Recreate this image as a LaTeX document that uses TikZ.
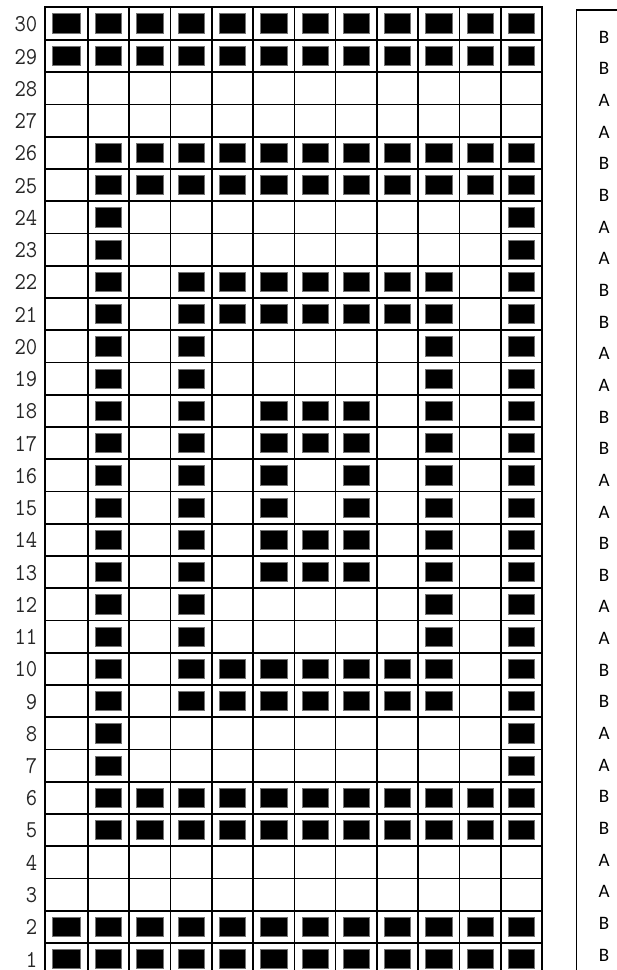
\documentclass[tikz,border=0pt]{standalone}
\usepackage{fontspec}
\newfontfamily\letfont{Carlito}
\begin{document}
\begin{tikzpicture}[x=1pt,y=-1pt,
  gridline/.style={line width=1.7pt, draw=black},
  fillsq/.style={fill=black, draw=black!55, line width=0.7pt},
  rownum/.style={anchor=east, font=\ttfamily\fontsize{22}{22}\selectfont, text=black!85, inner sep=0pt},
  letter/.style={font=\letfont\fontsize{19}{19}\selectfont, inner sep=0pt},
  keybox/.style={line width=1.3pt, draw=black}]
\useasboundingbox (0,0) rectangle (617,970);
\clip (0,0) rectangle (617,970);
% filled squares
\foreach \r/\cols in {
  30/{1,2,3,4,5,6,7,8,9,10,11,12},
  29/{1,2,3,4,5,6,7,8,9,10,11,12},
  26/{2,3,4,5,6,7,8,9,10,11,12},
  25/{2,3,4,5,6,7,8,9,10,11,12},
  24/{2,12}, 23/{2,12},
  22/{2,4,5,6,7,8,9,10,12}, 21/{2,4,5,6,7,8,9,10,12},
  20/{2,4,10,12}, 19/{2,4,10,12},
  18/{2,4,6,7,8,10,12}, 17/{2,4,6,7,8,10,12},
  16/{2,4,6,8,10,12}, 15/{2,4,6,8,10,12},
  14/{2,4,6,7,8,10,12}, 13/{2,4,6,7,8,10,12},
  12/{2,4,10,12}, 11/{2,4,10,12},
  10/{2,4,5,6,7,8,9,10,12}, 9/{2,4,5,6,7,8,9,10,12},
  8/{2,12}, 7/{2,12},
  6/{2,3,4,5,6,7,8,9,10,11,12}, 5/{2,3,4,5,6,7,8,9,10,11,12},
  2/{1,2,3,4,5,6,7,8,9,10,11,12},
  1/{1,2,3,4,5,6,7,8,9,10,11,12}}{
  \foreach \c in \cols {
    \pgfmathsetmacro\xl{\c==1 ? 45 : 88+41.27*(\c-2)}
    \pgfmathsetmacro\xr{88+41.27*(\c-1)}
    \pgfmathsetmacro\k{30-\r}
    \pgfmathsetmacro\yt{\k==0 ? 7 : 40+32.25*(\k-1)}
    \pgfmathsetmacro\yb{40+32.25*\k}
    \draw[fillsq] (\xl+7.5,\yt+6.5) rectangle (\xr-7.5,\yb-6.5);
  }
}
% grid lines
\draw[gridline] (45,7) -- (45,985);
\foreach \j in {0,...,11} {
  \draw[gridline] (88+41.27*\j,7) -- (88+41.27*\j,985);
}
\draw[gridline] (44.15,7) -- (542.8,7);
\foreach \k in {0,...,29} {
  \draw[gridline] (44.15,40+32.25*\k) -- (542.8,40+32.25*\k);
}
% row numbers
\foreach \r in {1,...,30} {
  \pgfmathsetmacro\k{30-\r}
  \pgfmathsetmacro\yc{\k==0 ? 23.5 : 40+32.25*(\k-0.5)}
  \node[rownum] (num\r) at (37.5,\yc+0.5) {\scalebox{1}[1.1]{\r}};
}
% key box
\draw[keybox] (650,10) -- (576.5,10) -- (576.5,1000);
\foreach \i in {0,...,29} {
  \pgfmathtruncatemacro\p{mod(floor(\i/2),2)}
  \ifnum\p=0 \def\lt{B}\else\def\lt{A}\fi
  \node[letter] (let\i) at (604,37+31.66*\i) {\lt};
}
\end{tikzpicture}
\end{document}
